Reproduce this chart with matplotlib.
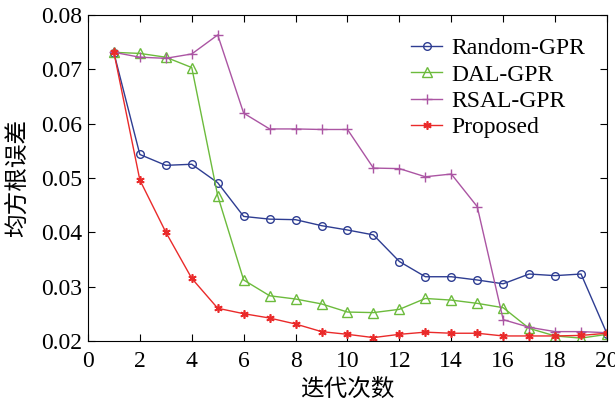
import matplotlib.pyplot as plt
import numpy as np

plt.rcParams['font.family'] = ['Liberation Serif', 'Noto Sans CJK SC']

iters = np.arange(1, 21)
random_gpr = [0.0730, 0.0543, 0.0523, 0.0525, 0.0491, 0.0429, 0.0424, 0.0423, 0.0412, 0.0404,
              0.0395, 0.0346, 0.0318, 0.0318, 0.0312, 0.0305, 0.0323, 0.0320, 0.0323, 0.0213]
dal_gpr = [0.0731, 0.0729, 0.0722, 0.0703, 0.0467, 0.0312, 0.0283, 0.0277, 0.0268, 0.0253,
           0.0252, 0.0258, 0.0278, 0.0275, 0.0269, 0.0261, 0.0223, 0.0209, 0.0205, 0.0212]
rsal_gpr = [0.0731, 0.0722, 0.0720, 0.0728, 0.0763, 0.0619, 0.0590, 0.0590, 0.0589, 0.0589,
            0.0518, 0.0517, 0.0502, 0.0507, 0.0447, 0.0239, 0.0225, 0.0217, 0.0217, 0.0215]
proposed = [0.0731, 0.0496, 0.0400, 0.0315, 0.0260, 0.0250, 0.0242, 0.0231, 0.0217, 0.0212,
            0.0206, 0.0212, 0.0216, 0.0214, 0.0214, 0.0209, 0.0209, 0.0209, 0.0210, 0.0214]

fig = plt.figure(figsize=(6.15, 4.01), dpi=100)
ax = fig.add_axes([0.143, 0.150, 0.844, 0.813])

ax.plot(iters, random_gpr, color='#2e3d92', marker='o', ms=5.5, mfc='none', mew=1.0, lw=1.0, label='Random-GPR')
ax.plot(iters, dal_gpr, color='#6cbb3c', marker='^', ms=6.5, mfc='none', mew=1.0, lw=1.0, label='DAL-GPR')
ax.plot(iters, rsal_gpr, color='#ab55a3', marker='+', ms=6.5, mew=1.0, lw=1.0, label='RSAL-GPR')
ax.plot(iters, proposed, color='#ea2a2a', marker=(6, 2, 0), ms=6, mew=1.2, lw=1.0, label='Proposed')

ax.set_xlim(0, 20)
ax.set_ylim(0.02, 0.08)
ax.set_xticks(np.arange(0, 21, 2))
ax.set_yticks(np.arange(0.02, 0.081, 0.01))
ax.set_yticklabels(['%.2f' % v for v in np.arange(0.02, 0.081, 0.01)])
ax.tick_params(direction='in', top=True, right=True, length=5, labelsize=17, width=0.8)
ax.tick_params(axis='x', pad=7)
ax.tick_params(axis='y', pad=4)
for s in ax.spines.values():
    s.set_linewidth(0.8)

ax.set_xlabel('迭代次数', fontsize=17, labelpad=5)
ax.set_ylabel('均方根误差', fontsize=17, labelpad=9)

ax.legend(loc='upper right', frameon=False, fontsize=17, handlelength=1.3,
          handletextpad=0.4, labelspacing=0.2, borderaxespad=0.3, bbox_to_anchor=(0.99, 0.98))

fig.savefig('out.png', dpi=100)
